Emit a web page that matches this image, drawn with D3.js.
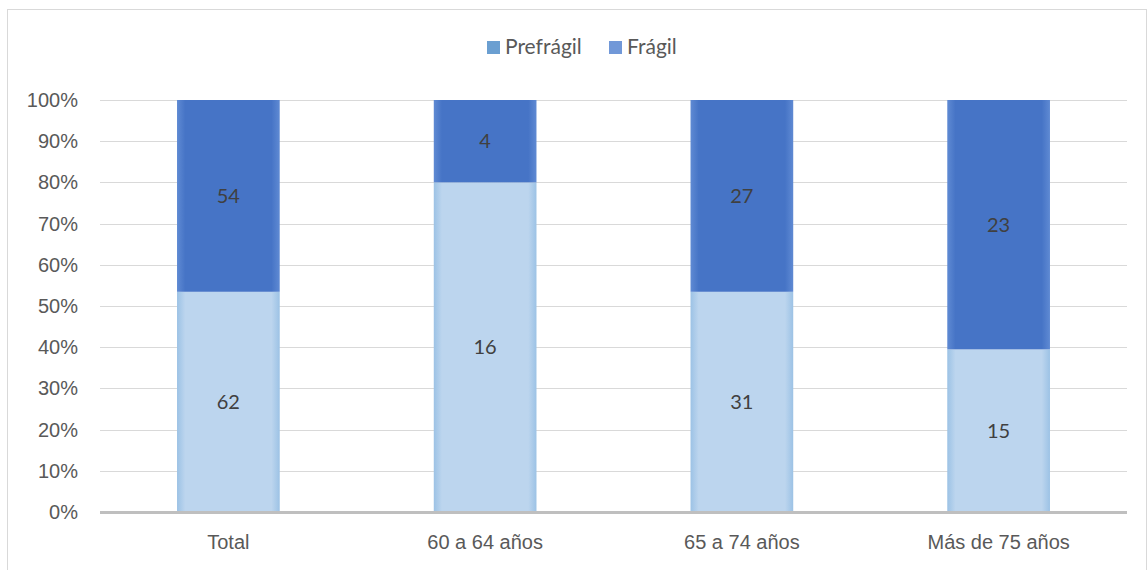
<!DOCTYPE html>
<html>
<head>
<meta charset="utf-8">
<script src="https://cdn.jsdelivr.net/npm/d3@7"></script>
<style>
  html, body { margin: 0; padding: 0; background: #fff; }
  svg { display: block; font-family: Lato, "Open Sans", sans-serif; }
</style>
</head>
<body>
<svg id="chart" width="1147" height="570"></svg>
<script>
// Frailty counts by age group, drawn as 100% stacked columns
const categories = ["Total", "60 a 64 años", "65 a 74 años", "Más de 75 años"];
const prefragil = [62, 16, 31, 15];
const fragil = [54, 4, 27, 23];
const seriesNames = ["Prefrágil", "Frágil"];
const yTicks = [0, 0.1, 0.2, 0.3, 0.4, 0.5, 0.6, 0.7, 0.8, 0.9, 1.0];

const svg = d3.select("#chart");
const W = 1147, H = 570;
const margin = { left: 100, right: 20, top: 100, bottom: 58 };
const plotW = W - margin.left - margin.right;
const plotH = H - margin.top - margin.bottom;
const fontPx = "20px";

// outer chart frame
svg.append("rect").attr("x", 7.5).attr("y", 9.5).attr("width", W - 8).attr("height", H - 8)
  .attr("fill", "#fff").attr("stroke", "#d9d9d9");

const defs = svg.append("defs");
function barGradient(id, edge, mid) {
  const g = defs.append("linearGradient").attr("id", id).attr("x1", "0").attr("x2", "1").attr("y1", "0").attr("y2", "0");
  g.append("stop").attr("offset", "0").attr("stop-color", edge);
  g.append("stop").attr("offset", "0.08").attr("stop-color", mid);
  g.append("stop").attr("offset", "0.92").attr("stop-color", mid);
  g.append("stop").attr("offset", "1").attr("stop-color", edge);
}
barGradient("gPre", "#9cc2e5", "#bcd5ee");
barGradient("gFra", "#5f8ad3", "#4674c6");

const g = svg.append("g").attr("transform", `translate(${margin.left},${margin.top})`);

const x = d3.scaleBand().domain(categories).range([0, plotW]).paddingInner(0.6).paddingOuter(0.3);
const y = d3.scaleLinear().domain([0, 1]).range([plotH, 0]);

// gridlines
g.append("g").selectAll("line").data(yTicks.slice(1)).join("line")
  .attr("x1", 0).attr("x2", plotW)
  .attr("y1", d => Math.round(y(d)) + 0.5).attr("y2", d => Math.round(y(d)) + 0.5)
  .attr("stroke", "#d9d9d9").attr("stroke-width", 1);

// y axis labels
const yAxis = d3.axisLeft(y).tickValues(yTicks).tickFormat(d3.format(".0%")).tickSize(0).tickPadding(22);
const ya = g.append("g").call(yAxis);
ya.select(".domain").remove();
ya.selectAll("text").attr("fill", "#595959").style("font-size", fontPx);

// stacked data
const rows = categories.map((c, i) => ({ cat: c, pre: prefragil[i], fra: fragil[i], tot: prefragil[i] + fragil[i] }));
const stack = d3.stack().keys(["pre", "fra"]).value((d, k) => d[k] / d.tot);
const layers = stack(rows);
const fills = ["url(#gPre)", "url(#gFra)"];

layers.forEach((layer, li) => {
  const lg = g.append("g");
  lg.selectAll("rect").data(layer).join("rect")
    .attr("x", d => x(d.data.cat))
    .attr("width", x.bandwidth())
    .attr("y", d => y(d[1]))
    .attr("height", d => y(d[0]) - y(d[1]))
    .attr("fill", fills[li]);
  lg.selectAll("text").data(layer).join("text")
    .attr("x", d => x(d.data.cat) + x.bandwidth() / 2)
    .attr("y", d => (y(d[0]) + y(d[1])) / 2)
    .attr("dy", "0.35em")
    .attr("text-anchor", "middle")
    .attr("fill", "#404040")
    .style("font-size", fontPx)
    .text(d => d.data[layer.key]);
});

// baseline
g.append("line").attr("x1", 0).attr("x2", plotW).attr("y1", plotH + 0.5).attr("y2", plotH + 0.5)
  .attr("stroke", "#bfbfbf").attr("stroke-width", 3);

// x axis labels
const xAxis = d3.axisBottom(x).tickSize(0).tickPadding(23);
const xa = g.append("g").attr("transform", `translate(0,${plotH})`).call(xAxis);
xa.select(".domain").remove();
xa.selectAll("text").attr("fill", "#595959").style("font-size", fontPx);

// legend
const legendColors = ["#6b9fd1", "#7198d8"];
const legend = svg.append("g").attr("transform", "translate(487,47)");
const items = [{ name: seriesNames[0], x: 0 }, { name: seriesNames[1], x: 122 }];
items.forEach((it, i) => {
  legend.append("rect").attr("x", it.x).attr("y", -6).attr("width", 13).attr("height", 13).attr("fill", legendColors[i]);
  legend.append("text").attr("x", it.x + 18).attr("y", 0).attr("dy", "0.35em")
    .attr("fill", "#595959").style("font-size", "21px").text(it.name);
});
</script>
</body>
</html>
